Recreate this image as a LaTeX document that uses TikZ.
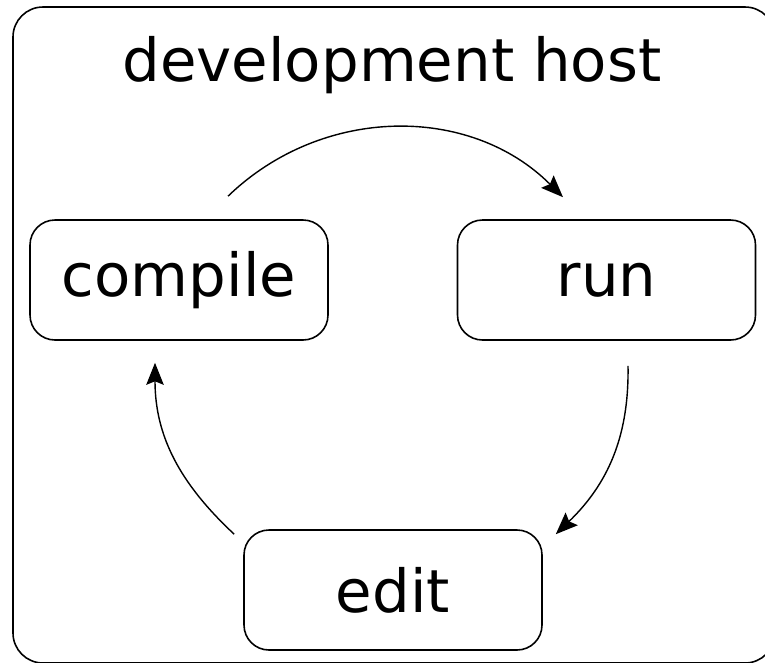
\documentclass[tikz,border=0pt]{standalone}
\usepackage{fontspec}
\setmainfont{DejaVu Sans}
\usetikzlibrary{arrows.meta}
\begin{document}
\begin{tikzpicture}[
  stage/.style={draw, line width=0.9pt, rounded corners=0.5cm,
    minimum width=5.96cm, minimum height=2.4cm, inner sep=0pt,
    font=\fontsize{33.8}{40}\selectfont},
  turn/.style={-{Stealth[length=4.4mm,width=3.5mm,inset=0.7mm]}, line width=0.8pt}
]
\useasboundingbox (0,0) rectangle (15.3,-13.24);
\clip (0,0) rectangle (15.3,-13.24);

% host frame, runs off the right and bottom
\draw[line width=0.9pt, rounded corners=0.6cm] (0.26,-0.14) rectangle (15.5,-13.26);
\node[anchor=base, inner sep=0pt, font=\fontsize{33.8}{40}\selectfont] (host) at (7.84,-1.62) {development host};

\node[stage] (compile) at (3.58,-5.6) {compile};
\node[stage] (run) at (12.13,-5.6) {run};
\node[stage] (edit) at (7.86,-11.8) {edit};

% the cycle
\draw[turn] ([shift={(0.98,0.46)}]compile.north) to[out=44,in=135] ([shift={(-0.87,0.44)}]run.north);
\draw[turn] ([shift={(0.43,-0.5)}]run.south) to[out=-89,in=44] ([shift={(0.26,-0.1)}]edit.north east);
\draw[turn] ([shift={(-0.18,-0.1)}]edit.north west) to[out=137,in=-90] ([shift={(-0.48,-0.44)}]compile.south);
\end{tikzpicture}
\end{document}
